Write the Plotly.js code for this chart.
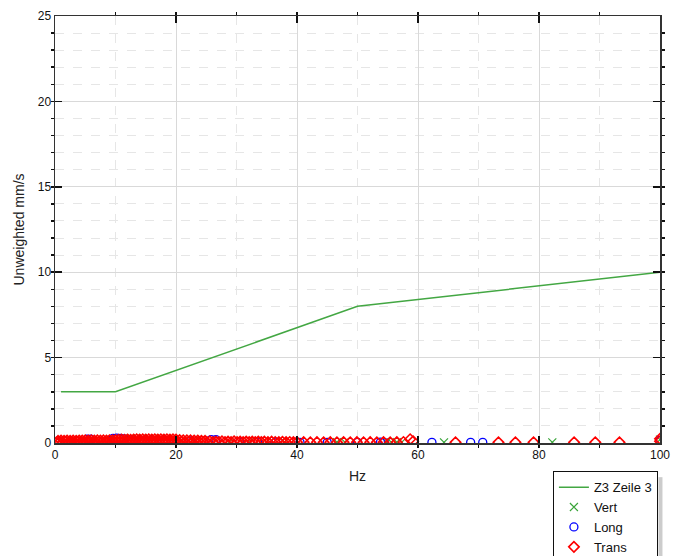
<!DOCTYPE html>
<html>
<head>
<meta charset="utf-8">
<script src="https://cdn.plot.ly/plotly-3.0.1.min.js"></script>
<style>html,body{margin:0;padding:0;background:#fff;}#chart{width:688px;height:556px;}</style>
</head>
<body>
<div id="chart"></div>
<script>
// Limit curve "Z3 Zeile 3"
const limitHz = [1, 10, 50, 100];
const limitVal = [3, 3, 8, 10];

// Vert (green x)
const vertHz = [3, 6, 9, 11.5, 12.5, 13.5, 14.5, 15.5, 16.5, 17.5, 18.5, 19.5, 21, 23, 28.8, 32, 35, 38, 46.6, 47.9, 54.8, 55.6, 56.5, 57.3, 64.3, 82.2, 100];
const vertVal = [0.12, 0.14, 0.16, 0.26, 0.27, 0.26, 0.28, 0.27, 0.26, 0.28, 0.27, 0.26, 0.15, 0.12, 0.06, 0.05, 0.05, 0.04, 0.05, 0.05, 0.05, 0.04, 0.05, 0.04, 0.04, 0.04, 0.2];

// Long (blue circles)
const longHz = [5.3, 5.9, 9.6, 10.2, 10.8, 11.4, 12.5, 14, 16, 18, 20, 22.5, 25.8, 26.6, 30.5, 33.5, 36.5, 40.5, 45, 50, 53.8, 54.4, 62.3, 68.7, 70.7, 100];
const longVal = [0.22, 0.22, 0.27, 0.28, 0.27, 0.24, 0.18, 0.17, 0.18, 0.17, 0.16, 0.12, 0.2, 0.2, 0.06, 0.05, 0.05, 0.04, 0.04, 0.04, 0.05, 0.04, 0.04, 0.04, 0.04, 0.15];

// Trans (red diamonds)
const transHz = [0.25, 0.5, 0.75, 1, 1.25, 1.5, 1.75, 2, 2.25, 2.5, 2.75, 3, 3.25, 3.5, 3.75, 4, 4.25, 4.5, 4.75, 5,
  5.25, 5.5, 5.75, 6, 6.25, 6.5, 6.75, 7, 7.25, 7.5, 7.75, 8, 8.25, 8.5, 8.75, 9, 9.25, 9.5, 9.75, 10,
  10.25, 10.5, 10.75, 11, 11.25, 11.5, 11.75, 12, 12.25, 12.5, 12.75, 13, 13.25, 13.5, 13.75, 14, 14.25, 14.5, 14.75, 15,
  15.25, 15.5, 15.75, 16, 16.25, 16.5, 16.75, 17, 17.25, 17.5, 17.75, 18, 18.25, 18.5, 18.75, 19, 19.25, 19.5, 19.75, 20,
  20.3, 20.6, 20.9, 21.2, 21.5, 21.8, 22.1, 22.4, 22.7, 23, 23.3, 23.6, 23.9, 24.2, 24.5, 24.8, 25.1,
  25.6, 26.1, 26.6, 27.1, 27.6, 28.1, 28.6, 29.1, 29.6, 30.1, 30.6, 31.1, 31.6, 32.1, 32.6, 33.1, 33.6, 34.1, 34.6,
  35.2, 35.8, 36.4, 37, 37.6, 38.2, 38.8, 39.4, 40,
  41.1, 42.2, 43.3, 44.4, 45.5, 46.6, 47.7, 48.8, 49.9, 51, 52.1, 53.2, 54.3, 55.4, 56.5, 57.6, 58.7, 59.2,
  66.2, 73.3, 76.1, 79.1, 85.8, 89.3, 93.3, 100, 100];
const transVal = [0.04, 0.12, 0.05, 0.14, 0.04, 0.13, 0.06, 0.14, 0.04, 0.12, 0.05, 0.14, 0.04, 0.13, 0.06, 0.14, 0.05, 0.14, 0.04, 0.15,
  0.05, 0.14, 0.06, 0.15, 0.04, 0.14, 0.05, 0.15, 0.06, 0.14, 0.05, 0.15, 0.04, 0.14, 0.06, 0.16, 0.05, 0.15, 0.06, 0.17,
  0.05, 0.19, 0.06, 0.2, 0.05, 0.19, 0.07, 0.2, 0.05, 0.19, 0.06, 0.2, 0.05, 0.21, 0.06, 0.2, 0.05, 0.21, 0.07, 0.2,
  0.05, 0.21, 0.06, 0.2, 0.05, 0.21, 0.06, 0.2, 0.05, 0.21, 0.07, 0.2, 0.05, 0.21, 0.06, 0.2, 0.05, 0.21, 0.06, 0.2,
  0.05, 0.17, 0.06, 0.16, 0.05, 0.16, 0.06, 0.15, 0.05, 0.14, 0.06, 0.14, 0.05, 0.13, 0.06, 0.12, 0.05,
  0.1, 0.05, 0.09, 0.06, 0.1, 0.05, 0.09, 0.05, 0.1, 0.06, 0.08, 0.05, 0.09, 0.06, 0.08, 0.05, 0.09, 0.06, 0.08,
  0.05, 0.08, 0.06, 0.05, 0.07, 0.05, 0.06, 0.05, 0.05,
  0.05, 0.04, 0.05, 0.04, 0.05, 0.04, 0.05, 0.04, 0.05, 0.04, 0.05, 0.04, 0.05, 0.04, 0.05, 0.06, 0.22, 0.1,
  0.04, 0.04, 0.04, 0.04, 0.04, 0.04, 0.04, 0.1, 0.25];

const fontFam = '"Liberation Sans", Arial, sans-serif';

const traces = [
  {x: limitHz, y: limitVal, type: 'scatter', mode: 'lines', name: 'Z3 Zeile 3',
   line: {color: '#43a743', width: 1.5}},
  {x: vertHz, y: vertVal, type: 'scatter', mode: 'markers', name: 'Vert',
   marker: {symbol: 'x-thin-open', size: 8, line: {color: '#3aa53a', width: 1.2}, color: '#3aa53a'}},
  {x: longHz, y: longVal, type: 'scatter', mode: 'markers', name: 'Long',
   marker: {symbol: 'circle-open', size: 8, color: '#0000ff', line: {width: 1.3}}},
  {x: transHz, y: transVal, type: 'scatter', mode: 'markers', name: 'Trans',
   marker: {symbol: 'diamond-open', size: 8, color: '#ff0000', line: {width: 1.6}}}
];

const axisCommon = {
  showline: true, linecolor: '#333', linewidth: 1.5, mirror: 'ticks',
  ticks: 'inside', ticklen: 7, tickwidth: 1.5, tickcolor: '#111',
  showgrid: true, gridcolor: '#d9d9d9', gridwidth: 1, zeroline: false,
  tickfont: {family: fontFam, size: 12, color: '#111'},
  fixedrange: true
};

const layout = {
  width: 688, height: 556,
  margin: {l: 55, r: 28, t: 16, b: 113, autoexpand: false},
  paper_bgcolor: '#fff', plot_bgcolor: '#fff',
  font: {family: fontFam, color: '#222'},
  showlegend: true,
  legend: {x: 0.823, xanchor: 'left', y: -0.066, yanchor: 'top',
    bordercolor: '#111', borderwidth: 1, bgcolor: '#fff',
    font: {family: fontFam, size: 13, color: '#111'}},
  shapes: [
    {type: 'rect', xref: 'paper', yref: 'paper', x0: 0.9975, x1: 1.0041, y0: -0.08, y1: -0.3,
     line: {width: 0}, fillcolor: '#cccccc', layer: 'below'}
  ],
  xaxis: Object.assign({}, axisCommon, {
    range: [0, 100], dtick: 20, tick0: 0,
    minor: {dtick: 10, ticklen: 3, tickcolor: '#111', showgrid: true, gridcolor: '#e6e6e6', griddash: 'dash', gridwidth: 1},
    title: {text: 'Hz', font: {family: fontFam, size: 14, color: '#222'}, standoff: 10}
  }),
  yaxis: Object.assign({}, axisCommon, {
    range: [0, 25], dtick: 5, tick0: 0,
    minor: {dtick: 1, ticklen: 3, tickcolor: '#111', showgrid: true, gridcolor: '#e6e6e6', griddash: 'dash', gridwidth: 1},
    title: {text: 'Unweighted mm/s', font: {family: fontFam, size: 14, color: '#222'}, standoff: 10}
  })
};

Plotly.newPlot('chart', traces, layout, {staticPlot: true, displayModeBar: false});
</script>
</body>
</html>
